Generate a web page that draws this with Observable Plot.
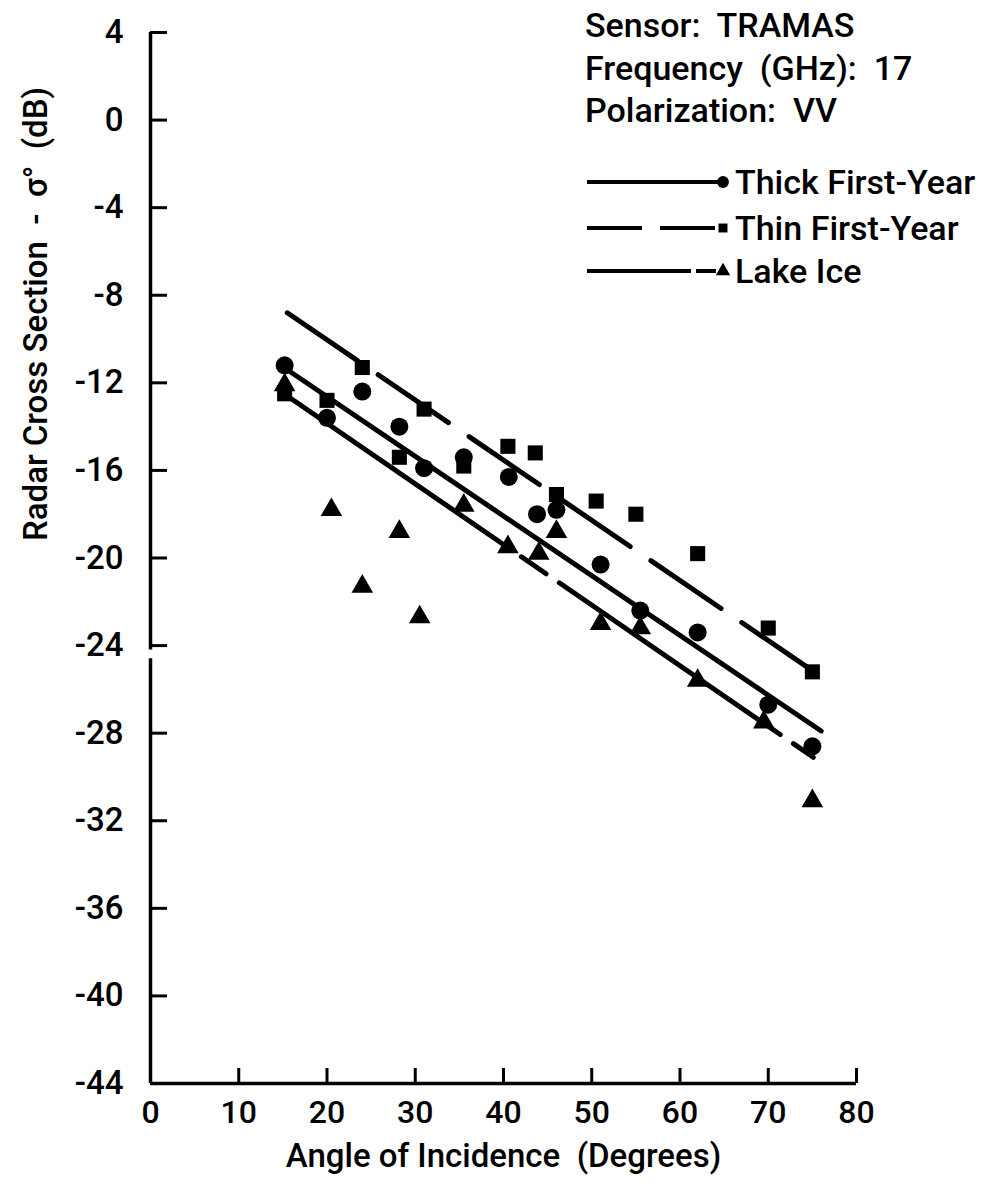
<!DOCTYPE html>
<html>
<head>
<meta charset="utf-8">
<script src="https://cdn.jsdelivr.net/npm/d3@7"></script>
<script src="https://cdn.jsdelivr.net/npm/@observablehq/plot@0.6"></script>
<style>
  html, body { margin: 0; padding: 0; background: #fff; }
  #wrap { position: relative; width: 999px; height: 1186px; overflow: hidden; }
  #legend { position: absolute; left: 0; top: 0; pointer-events: none; }
  .lt { font-family: Roboto, "Open Sans", sans-serif; font-weight: 500; font-size: 34px; fill: #000; white-space: pre; }
</style>
</head>
<body>
<div id="wrap"><div id="chart"></div><svg id="legend" width="999" height="300"></svg></div>
<script>
// ---- data ----
const xTicks = [0, 10, 20, 30, 40, 50, 60, 70, 80];
const yTicks = [4, 0, -4, -8, -12, -16, -20, -24, -28, -32, -36, -40, -44];

// Thick First-Year (circles)
const thickAngle = [15.2, 20, 24, 28.2, 31, 35.5, 40.6, 43.8, 46, 51, 55.5, 62, 70, 75];
const thickDb    = [-11.2, -13.6, -12.4, -14.0, -15.9, -15.4, -16.3, -18.0, -17.8, -20.3, -22.4, -23.4, -26.7, -28.6];
// Thin First-Year (squares)
const thinAngle  = [15.2, 20, 24, 28.2, 31, 35.5, 40.5, 43.6, 46, 50.5, 55, 62, 70, 75];
const thinDb     = [-12.5, -12.8, -11.3, -15.4, -13.2, -15.8, -14.9, -15.2, -17.1, -17.4, -18.0, -19.8, -23.2, -25.2];
// Lake Ice (triangles)
const lakeAngle  = [15.2, 20.5, 24, 28.2, 30.5, 35.5, 40.5, 44, 46, 51, 55.5, 62, 69.5, 75];
const lakeDb     = [-12.1, -17.8, -21.3, -18.8, -22.7, -17.6, -19.5, -19.8, -18.8, -23.0, -23.2, -25.6, -27.5, -31.1];

// Regression lines (end points)
const thickFitAngle = [15.5, 76];
const thickFitDb    = [-11.4, -27.9];
const thinFitAngle  = [15.5, 75.2];
const thinFitDb     = [-8.8, -25.2];
const lakeFitAngle  = [15.5, 75.1];
const lakeFitDb     = [-12.6, -29.1];

const axisBreak = [-24.2, -24.6];

const xTitle = "Angle of Incidence  (Degrees)";
const yTitle = "Radar Cross Section  -  σ°  (dB)";
const infoLines = ["Sensor:  TRAMAS", "Frequency  (GHz):  17", "Polarization:  VV"];
const seriesNames = ["Thick First-Year", "Thin First-Year", "Lake Ice"];

// ---- build tables ----
const zip = (a, b) => a.map((v, i) => ({a: v, db: b[i]}));
const thickPts = zip(thickAngle, thickDb);
const thinPts = zip(thinAngle, thinDb);
const lakePts = zip(lakeAngle, lakeDb);
const thickFit = zip(thickFitAngle, thickFitDb);
const thinFit = zip(thinFitAngle, thinFitDb);
const lakeFit = zip(lakeFitAngle, lakeFitDb);

const FONT = 'Roboto, "Open Sans", sans-serif';
const fmt = d => (d < 0 ? "-" + Math.abs(d) : String(d));

const chart = Plot.plot({
  width: 999,
  height: 1186,
  marginLeft: 150,
  marginRight: 143,
  marginTop: 32,
  marginBottom: 103,
  style: {fontFamily: FONT, fontSize: "33px", fontWeight: 500, color: "#000", background: "#fff"},
  x: {domain: [0, 80]},
  y: {domain: [-44, 4]},
  marks: [
    Plot.axisX(xTicks, {anchor: "bottom", tickSize: -15, tickPadding: 32, strokeWidth: 3, fontSize: 32, tickFormat: fmt, label: null}),
    Plot.axisY(yTicks, {anchor: "left", tickSize: -17, tickPadding: 44, strokeWidth: 3, fontSize: 33, tickFormat: fmt, label: null}),
    Plot.ruleY([-44], {strokeWidth: 3.5}),
    Plot.ruleX([0], {y1: yTicks[0], y2: axisBreak[0], strokeWidth: 3.5}),
    Plot.ruleX([0], {y1: axisBreak[1], y2: yTicks[yTicks.length - 1], strokeWidth: 3.5}),
    Plot.line(thickFit, {x: "a", y: "db", stroke: "#000", strokeWidth: 5}),
    Plot.line(thinFit, {x: "a", y: "db", stroke: "#000", strokeWidth: 5, strokeDasharray: "85,25"}),
    Plot.line(lakeFit, {x: "a", y: "db", stroke: "#000", strokeWidth: 5, strokeDasharray: "268,16,30,16"}),
    Plot.dot(thickPts, {x: "a", y: "db", symbol: "circle", r: 9, fill: "#000", stroke: null}),
    Plot.dot(thinPts, {x: "a", y: "db", symbol: "square", r: 8.5, fill: "#000", stroke: null}),
    Plot.dot(lakePts, {x: "a", y: "db", symbol: "triangle", r: 8, fill: "#000", stroke: null}),
    Plot.text([xTitle], {frameAnchor: "bottom", dy: 83, fontSize: 33, fill: "#000"}),
    Plot.text([yTitle], {frameAnchor: "left", rotate: -90, dx: -114, dy: -17, fontSize: 33, fill: "#000"})
  ]
});
document.getElementById("chart").appendChild(chart);

// ---- legend / annotation overlay ----
const lg = d3.select("#legend");
const infoBase = [37, 80, 122];
infoLines.forEach((t, i) => lg.append("text").attr("class", "lt").attr("x", 585).attr("y", infoBase[i]).text(t));
const rowY = [182, 228, 271];
const dashes = [null, "55,18", "104,5,20"];
const sym = [d3.symbolCircle, d3.symbolSquare, d3.symbolTriangle];
const symSize = [110, 80, 90];
seriesNames.forEach((name, i) => {
  lg.append("line").attr("x1", 587).attr("x2", 718).attr("y1", rowY[i]).attr("y2", rowY[i])
    .attr("stroke", "#000").attr("stroke-width", 4).attr("stroke-dasharray", dashes[i]);
  lg.append("path").attr("d", d3.symbol(sym[i], symSize[i])()).attr("transform", `translate(723,${rowY[i]})`).attr("fill", "#000");
  lg.append("text").attr("class", "lt").attr("x", 735).attr("y", rowY[i] + 12).text(name);
});
</script>
</body>
</html>
